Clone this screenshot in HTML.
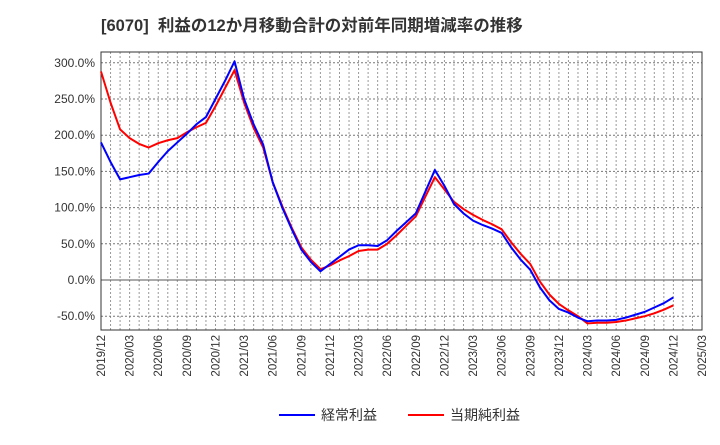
<!DOCTYPE html>
<html><head><meta charset="utf-8"><style>
body{margin:0;background:#fff;font-family:"Liberation Sans","Noto Sans CJK JP",sans-serif}
</style></head><body>
<svg width="720" height="440" xmlns="http://www.w3.org/2000/svg" id="c">
<text x="101" y="31" font-size="16.5" font-weight="bold" fill="#333" xml:space="preserve" style="white-space:pre" font-family="Liberation Sans, Noto Sans CJK JP, sans-serif">[6070]  利益の12か月移動合計の対前年同期増減率の推移</text>
</svg>
<script>
const yTicks=[300,250,200,150,100,50,0,-50];
const xLabels=["2019/12","2020/03","2020/06","2020/09","2020/12","2021/03","2021/06","2021/09","2021/12","2022/03","2022/06","2022/09","2022/12","2023/03","2023/06","2023/09","2023/12","2024/03","2024/06","2024/09","2024/12","2025/03"];
const blueVals=[190,163,139,142,145,147,163,178,190,202,215,225,250,275,302,250,215,187,135,100,70,42,25,12,22,32,42,48,48,47,55,68,80,92,122,152,130,105,92,82,76,71,65,45,28,14,-10,-28,-40,-45,-52,-57,-56,-56,-55,-52,-48,-44,-38,-32,-24];
const redVals=[288,245,208,196,188,183,189,193,196,204,211,217,240,265,290,245,210,183,135,102,72,45,28,15,20,27,33,40,42,42,50,62,75,88,115,142,125,108,98,90,83,77,70,52,36,22,-2,-20,-33,-42,-50,-60,-59,-59,-58,-56,-53,-50,-46,-41,-35];
const NS="http://www.w3.org/2000/svg",svg=document.getElementById('c');
const L=101,R=702,T=52,B=330,months=63;
const xs=i=>L+(R-L)*i/months;
const ys=v=>280-v*36.2/50;
function mk(t,a,p){const e=document.createElementNS(NS,t);for(const k in a)e.setAttribute(k,a[k]);(p||svg).appendChild(e);return e;}
for(let i=1;i<months;i++){const g=mk('line',{x1:xs(i),x2:xs(i),y1:T,y2:B,stroke:'#999','stroke-dasharray':'2,2','stroke-width':1});

}
yTicks.forEach(v=>{const y=ys(v);
const g=mk('line',{x1:L,x2:R,y1:y,y2:y,stroke:v===0?'#555':'#777','stroke-dasharray':v===0?'':'2,2','stroke-width':1});


const t=mk('text',{x:L-6,y:y+4,'text-anchor':'end','font-size':12,fill:'#333'});t.textContent=v.toFixed(1)+'%';

});
const fr=mk('rect',{x:L,y:T,width:R-L,height:B-T,fill:'none',stroke:'#333','stroke-width':1});


xLabels.forEach((s,i)=>{const x=xs(i*3);
const t=mk('text',{x:0,y:0,transform:`translate(${x+4},${B+5}) rotate(-90)`,'text-anchor':'end','font-size':11.5,fill:'#333'});t.textContent=s;

});
function line(vals,c,n){const p=mk('polyline',{points:vals.map((v,i)=>xs(i)+','+ys(v)).join(' '),fill:'none',stroke:c,'stroke-width':2,'stroke-linejoin':'round'});

}
line(redVals,'#f00','series-net-profit-line');
line(blueVals,'#00f','series-ordinary-profit-line');
function leg(x,c,s,n){const g=mk('g',{});


mk('line',{x1:x,x2:x+36,y1:415,y2:415,stroke:c,'stroke-width':2},g);
const t=mk('text',{x:x+42,y:420,'font-size':14,fill:'#333'},g);t.textContent=s;}
leg(279,'#00f','経常利益','legend-ordinary-profit');
leg(408,'#f00','当期純利益','legend-net-profit');
</script>
</body></html>
